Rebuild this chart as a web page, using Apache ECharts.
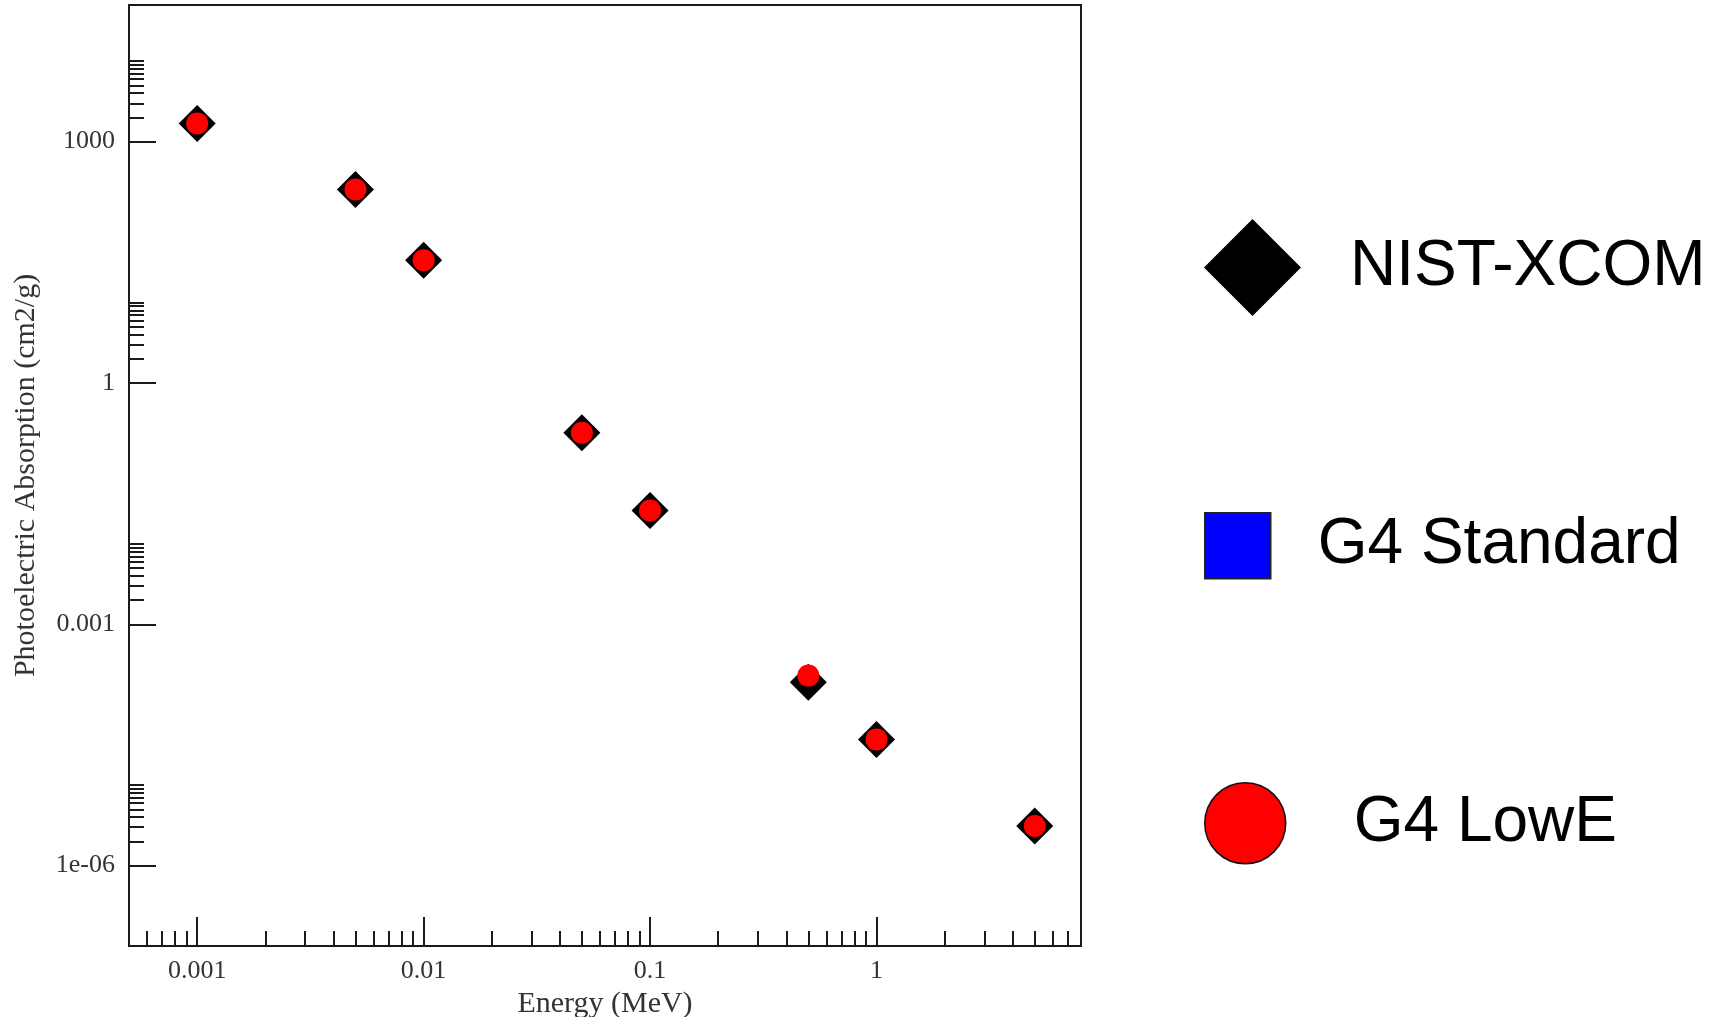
<!DOCTYPE html>
<html>
<head>
<meta charset="utf-8">
<script src="https://cdn.jsdelivr.net/npm/echarts@6/dist/echarts.min.js"></script>
<style>html,body{margin:0;padding:0;background:#fff}#c{width:1721px;height:1017px}</style>
</head>
<body>
<div id="c"></div>
<script>
// ---- data ----
const energies = [0.001, 0.005, 0.01, 0.05, 0.1, 0.5, 1, 5];
const nistXcom = [1680, 255, 33.6, 0.240, 0.0259, 1.9e-4, 3.7e-5, 3.1e-6];
const g4Standard = [];
const g4LowE = [1680, 255, 33.6, 0.240, 0.0259, 2.3e-4, 3.7e-5, 3.1e-6];

const xMajorTicks = [0.001, 0.01, 0.1, 1];
const xTickLabels = ['0.001', '0.01', '0.1', '1'];
const xMinorTicks = [6e-4, 7e-4, 8e-4, 9e-4,
  0.002, 0.003, 0.004, 0.005, 0.006, 0.007, 0.008, 0.009,
  0.02, 0.03, 0.04, 0.05, 0.06, 0.07, 0.08, 0.09,
  0.2, 0.3, 0.4, 0.5, 0.6, 0.7, 0.8, 0.9,
  2, 3, 4, 5, 6, 7];
const yMajorTicks = [1e-6, 0.001, 1, 1000];
const yTickLabels = ['1e-06', '0.001', '1', '1000'];
const yMinorTicks = [2e-6, 3e-6, 4e-6, 5e-6, 6e-6, 7e-6, 8e-6, 9e-6, 1e-5,
  0.002, 0.003, 0.004, 0.005, 0.006, 0.007, 0.008, 0.009, 0.01,
  2, 3, 4, 5, 6, 7, 8, 9, 10,
  2000, 3000, 4000, 5000, 6000, 7000, 8000, 9000, 10000];

const xMin = 5e-4, xMax = 8, yMin = 1e-7, yMax = 5e4;

// ---- chart ----
function labelFor(vals, labels) {
  return function (v) {
    for (let i = 0; i < vals.length; i++) {
      if (Math.abs(Math.log10(v) - Math.log10(vals[i])) < 1e-6) return labels[i];
    }
    return '';
  };
}
const serif = '"Liberation Serif", "DejaVu Serif", serif';
const sans = '"Liberation Sans", Arial, sans-serif';
const gridBox = { left: 129, top: 5, width: 952, height: 941, outerBoundsMode: 'none', containLabel: false };

const chart = echarts.init(document.getElementById('c'));
chart.setOption({
  backgroundColor: '#fff',
  animation: false,
  grid: [
    Object.assign({ show: true, borderColor: '#1a1a1a', borderWidth: 2, backgroundColor: 'transparent' }, gridBox),
    Object.assign({ show: false }, gridBox)
  ],
  xAxis: [{
    type: 'log', logBase: 10, min: xMin, max: xMax, gridIndex: 0,
    name: 'Energy (MeV)', nameLocation: 'middle', nameGap: 40,
    nameTextStyle: { fontFamily: serif, fontSize: 30, color: '#333' },
    axisLine: { show: true, lineStyle: { color: '#1a1a1a', width: 2 } },
    axisTick: { show: true, inside: true, length: 29, lineStyle: { color: '#1a1a1a', width: 2 }, customValues: xMajorTicks },
    axisLabel: { show: true, customValues: xMajorTicks, margin: 12, fontFamily: serif, fontSize: 26, color: '#333',
      formatter: labelFor(xMajorTicks, xTickLabels) },
    splitLine: { show: false }, minorTick: { show: false }
  }, {
    type: 'log', logBase: 10, min: xMin, max: xMax, gridIndex: 1,
    axisLine: { show: false },
    axisTick: { show: true, inside: true, length: 15, lineStyle: { color: '#1a1a1a', width: 2 }, customValues: xMinorTicks },
    axisLabel: { show: false }, splitLine: { show: false }
  }],
  yAxis: [{
    type: 'log', logBase: 10, min: yMin, max: yMax, gridIndex: 0,
    name: 'Photoelectric Absorption (cm2/g)', nameLocation: 'middle', nameGap: 88, nameRotate: 90,
    nameTextStyle: { fontFamily: serif, fontSize: 30, color: '#333' },
    axisLine: { show: true, lineStyle: { color: '#1a1a1a', width: 2 } },
    axisTick: { show: true, inside: true, length: 27, lineStyle: { color: '#1a1a1a', width: 2 }, customValues: yMajorTicks },
    axisLabel: { show: true, customValues: yMajorTicks, margin: 14, fontFamily: serif, fontSize: 26, color: '#333',
      formatter: labelFor(yMajorTicks, yTickLabels) },
    splitLine: { show: false }, minorTick: { show: false }
  }, {
    type: 'log', logBase: 10, min: yMin, max: yMax, gridIndex: 1,
    axisLine: { show: false },
    axisTick: { show: true, inside: true, length: 15, lineStyle: { color: '#1a1a1a', width: 2 }, customValues: yMinorTicks },
    axisLabel: { show: false }, splitLine: { show: false }
  }],
  legend: [{
    data: [{ name: 'NIST-XCOM', icon: 'diamond', itemStyle: { color: '#000', opacity: 1 } }],
    left: 1204, top: 219, padding: 0, orient: 'vertical', itemWidth: 97, itemHeight: 97, selectedMode: false,
    textStyle: { fontFamily: sans, fontSize: 64, color: '#000', padding: [8, 0, 0, 44] }
  }, {
    data: [{ name: 'G4 Standard', icon: 'rect', itemStyle: { color: '#0000ff', opacity: 1, borderColor: '#222', borderWidth: 1.5 } }],
    left: 1204, top: 512, padding: 0, orient: 'vertical', itemWidth: 66, itemHeight: 66, selectedMode: false,
    textStyle: { fontFamily: sans, fontSize: 64, color: '#000', padding: [8, 0, 0, 42] }
  }, {
    data: [{ name: 'G4 LowE', icon: 'circle', itemStyle: { color: '#ff0000', opacity: 1, borderColor: '#111', borderWidth: 1.5 } }],
    left: 1204, top: 782, padding: 0, orient: 'vertical', itemWidth: 81, itemHeight: 81, selectedMode: false,
    textStyle: { fontFamily: sans, fontSize: 64, color: '#000', padding: [8, 0, 0, 63] }
  }],
  series: [{
    name: 'NIST-XCOM', type: 'scatter', xAxisIndex: 0, yAxisIndex: 0,
    symbol: 'diamond', symbolSize: 37, z: 2,
    itemStyle: { color: '#000', opacity: 1 },
    data: energies.map((e, i) => [e, nistXcom[i]])
  }, {
    name: 'G4 Standard', type: 'scatter', xAxisIndex: 0, yAxisIndex: 0,
    symbol: 'rect', symbolSize: 20, z: 3,
    itemStyle: { color: '#0000ff', opacity: 1, borderColor: '#222', borderWidth: 1 },
    data: g4Standard.map((v, i) => [energies[i], v])
  }, {
    name: 'G4 LowE', type: 'scatter', xAxisIndex: 0, yAxisIndex: 0,
    symbol: 'circle', symbolSize: 22, z: 4,
    itemStyle: { color: '#ff0000', opacity: 1 },
    data: energies.map((e, i) => [e, g4LowE[i]])
  }]
});
</script>
</body>
</html>
